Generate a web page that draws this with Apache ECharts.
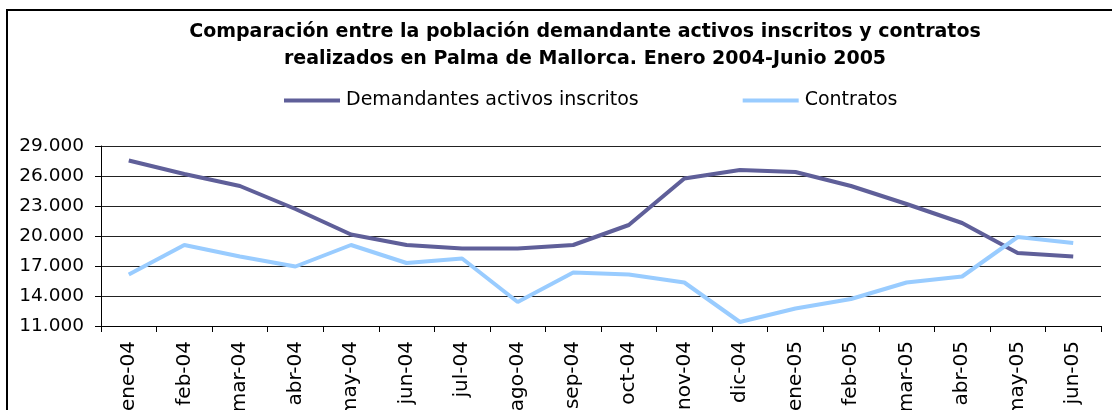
<!DOCTYPE html>
<html>
<head>
<meta charset="utf-8">
<title>Demandantes y contratos - Palma de Mallorca</title>
<script src="https://cdn.jsdelivr.net/npm/echarts@6/dist/echarts.min.js"></script>
<style>
  html, body { margin: 0; padding: 0; background: #fff; }
  #chart { width: 1112px; height: 410px; }
</style>
</head>
<body>
<div id="chart"></div>
<script>
// Months, January 2004 to June 2005
const months = ['ene-04', 'feb-04', 'mar-04', 'abr-04', 'may-04', 'jun-04', 'jul-04', 'ago-04', 'sep-04',
  'oct-04', 'nov-04', 'dic-04', 'ene-05', 'feb-05', 'mar-05', 'abr-05', 'may-05', 'jun-05'];

// Registered active job seekers
const demandantes = [27550, 26200, 25000, 22700, 20150, 19100, 18750, 18750, 19100,
  21100, 25750, 26600, 26400, 25000, 23200, 21300, 18300, 17950];

// Contracts signed
const contratos = [16150, 19100, 17950, 16950, 19100, 17300, 17750, 13400, 16350,
  16150, 15350, 11400, 12750, 13700, 15350, 15950, 19900, 19300];

const seriesNames = ['Demandantes activos inscritos', 'Contratos'];
const titleText = 'Comparación entre la población demandante activos inscritos y contratos\nrealizados en Palma de Mallorca. Enero 2004-Junio 2005';

const FONT = 'DejaVu Sans';

const chart = echarts.init(document.getElementById('chart'), null, { renderer: 'canvas' });

chart.setOption({
  backgroundColor: '#ffffff',
  animation: false,
  title: {
    text: titleText,
    left: 585,
    top: 19,
    padding: 0,
    textAlign: 'center',
    textStyle: {
      fontFamily: FONT,
      fontWeight: 'bold',
      fontSize: 19,
      lineHeight: 27,
      color: '#000'
    }
  },
  legend: {
    data: seriesNames,
    left: 284,
    top: 91,
    padding: 0,
    icon: 'rect',
    itemWidth: 56,
    itemHeight: 4,
    itemGap: 104,
    textStyle: { fontFamily: FONT, fontSize: 19, color: '#000', padding: [0, 0, 0, 1] }
  },
  graphic: [{
    type: 'rect',
    silent: true,
    shape: { x: 7, y: 10, width: 1200, height: 500 },
    style: { fill: 'none', stroke: '#000', lineWidth: 2 }
  }],
  grid: {
    left: 101, right: 11, top: 146, bottom: 84,
    containLabel: false,
    outerBoundsMode: 'none'
  },
  xAxis: {
    type: 'category',
    data: months,
    boundaryGap: true,
    axisLine: { show: true, lineStyle: { color: '#000', width: 1 } },
    axisTick: { show: true, length: 6, lineStyle: { color: '#000' } },
    axisLabel: {
      rotate: 90,
      interval: 0,
      margin: 15,
      fontFamily: FONT,
      fontSize: 20,
      color: '#000'
    },
    splitLine: { show: false }
  },
  yAxis: {
    type: 'value',
    min: 11000,
    max: 29000,
    interval: 3000,
    axisLine: { show: true, lineStyle: { color: '#000', width: 1 } },
    axisTick: { show: true, length: 6, lineStyle: { color: '#000' } },
    axisLabel: {
      margin: 17,
      fontFamily: FONT,
      fontSize: 18.5,
      color: '#000',
      formatter: v => (v / 1000).toFixed(3)
    },
    splitLine: { show: true, lineStyle: { color: '#222', width: 1 } }
  },
  series: [
    {
      name: seriesNames[0],
      type: 'line',
      data: demandantes,
      symbol: 'none',
      smooth: false,
      color: '#5f5f99',
      lineStyle: { color: '#5f5f99', width: 4 }
    },
    {
      name: seriesNames[1],
      type: 'line',
      data: contratos,
      symbol: 'none',
      smooth: false,
      color: '#99ccff',
      lineStyle: { color: '#99ccff', width: 4 }
    }
  ]
});
</script>
</body>
</html>
